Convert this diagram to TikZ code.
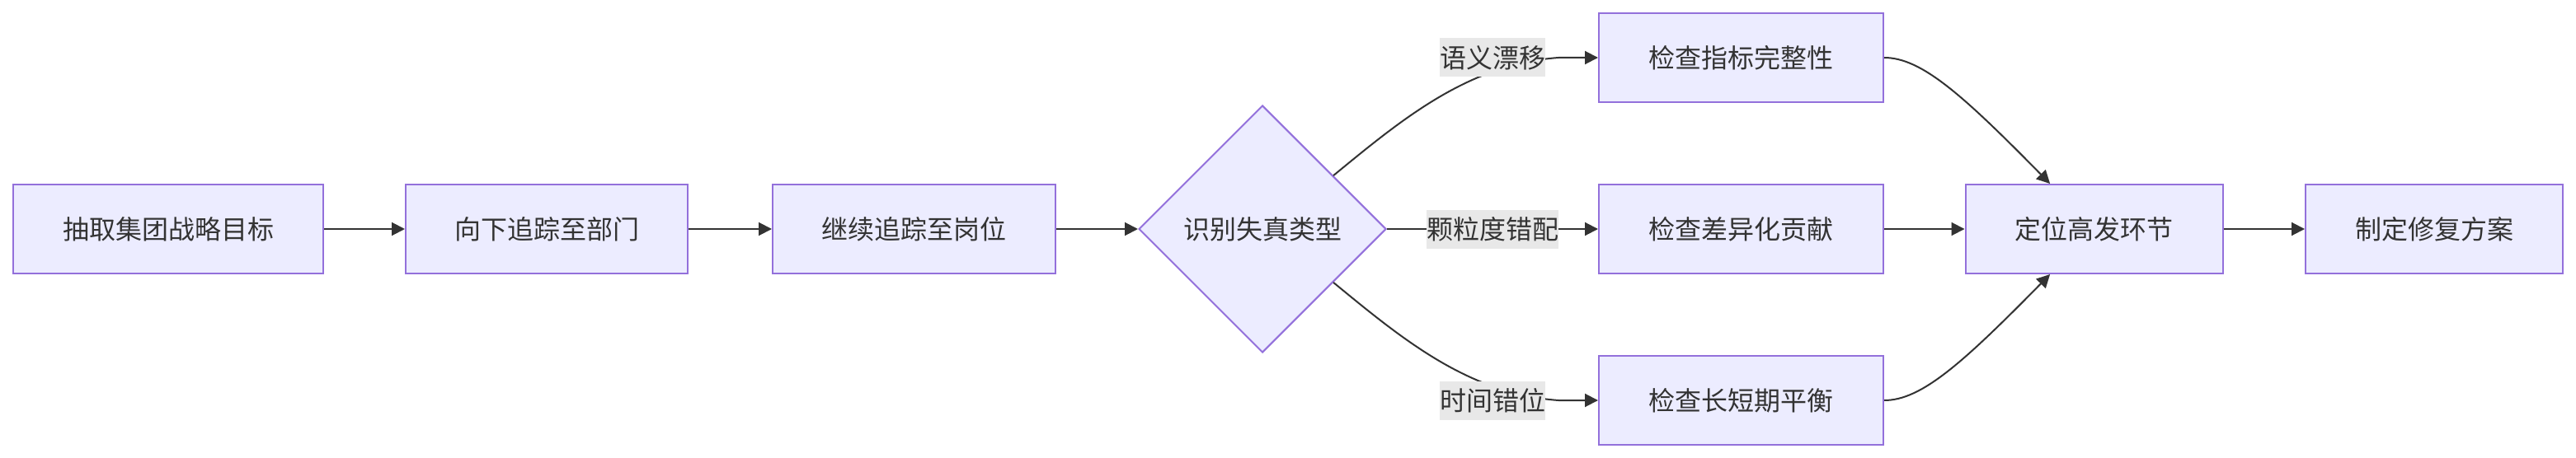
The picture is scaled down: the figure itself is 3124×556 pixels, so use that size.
\documentclass[tikz,border=0pt]{standalone}
\usepackage{fontspec}
\setmainfont{Noto Sans CJK SC}
\usetikzlibrary{arrows.meta,shapes.geometric,calc}
\definecolor{nodefill}{HTML}{ECECFF}
\definecolor{nodeborder}{HTML}{9370DB}
\definecolor{edgecol}{HTML}{333333}
\definecolor{labelbg}{HTML}{E8E8E8}
\begin{document}
\begin{tikzpicture}[x=1pt,y=-1pt,
  box/.style={draw=nodeborder,fill=nodefill,line width=2pt,text=edgecol,
    font=\fontsize{32}{38}\selectfont,minimum height=108pt,inner sep=0pt},
  decision/.style={diamond,draw=nodeborder,fill=nodefill,line width=2pt,text=edgecol,
    font=\fontsize{32}{38}\selectfont,minimum width=300pt,minimum height=300pt,inner sep=0pt},
  edge/.style={draw=edgecol,line width=2pt,-{Triangle[length=16pt,width=16pt]}},
  elabel/.style={fill=labelbg,text=edgecol,font=\fontsize{32}{38}\selectfont,
    inner xsep=0pt,inner ysep=0pt,minimum height=47pt}]
\fill[white] (0,0) rectangle (3124,556);
\useasboundingbox (0,0) rectangle (3124,556);
\node[box,minimum width=376pt] (a) at (204,278) {抽取集团战略目标};
\node[box,minimum width=342pt] (b) at (663,278) {向下追踪至部门};
\node[box,minimum width=343pt] (c) at (1108.5,278) {继续追踪至岗位};
\node[decision] (d) at (1531,278) {识别失真类型};
\node[box,minimum width=345pt] (e) at (2111.5,70) {检查指标完整性};
\node[box,minimum width=345pt] (f) at (2111.5,278) {检查差异化贡献};
\node[box,minimum width=345pt] (g) at (2111.5,486) {检查长短期平衡};
\node[box,minimum width=312pt] (h) at (2539.5,278) {定位高发环节};
\node[box,minimum width=312pt] (i) at (2952,278) {制定修复方案};
\coordinate (dup) at ($(d.east)!0.43!(d.north)$);
\coordinate (ddn) at ($(d.east)!0.43!(d.south)$);
\coordinate (hup) at ($(h.north west)!0.33!(h.north east)$);
\coordinate (hdn) at ($(h.south west)!0.33!(h.south east)$);
\draw[edge] (a) -- (b);
\draw[edge] (b) -- (c);
\draw[edge] (c) -- (d);
\draw[edge] (dup) .. controls (1700,145) and (1780,78) .. (1890,70) -- (e.west);
\draw[edge] (d.east) -- (f.west);
\draw[edge] (ddn) .. controls (1700,411) and (1780,478) .. (1890,486) -- (g.west);
\draw[edge] (e.east) .. controls (2330,70) and (2380,115) .. (hup);
\draw[edge] (f) -- (h);
\draw[edge] (g.east) .. controls (2330,486) and (2380,441) .. (hdn);
\draw[edge] (h) -- (i);
\node[elabel] (l1) at (1810,70) {语义漂移};
\node[elabel] (l2) at (1810,278) {颗粒度错配};
\node[elabel] (l3) at (1810,486) {时间错位};
\end{tikzpicture}
\end{document}
